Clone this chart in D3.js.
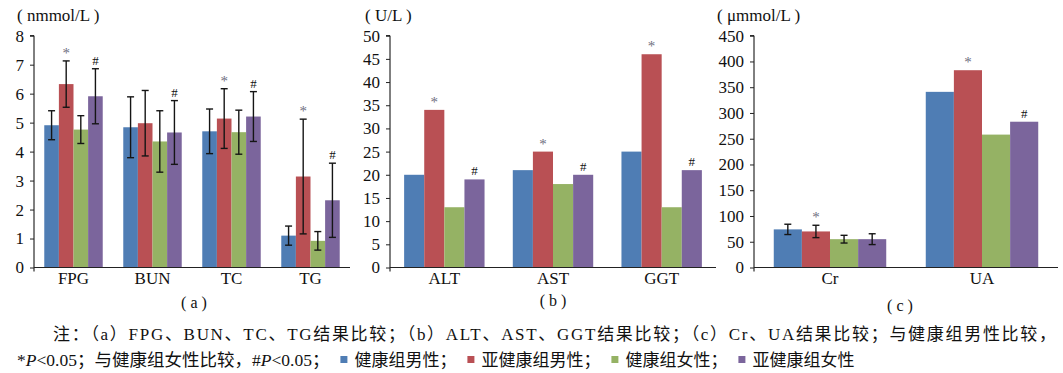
<!DOCTYPE html>
<html>
<head>
<meta charset="utf-8">
<script src="https://cdn.jsdelivr.net/npm/d3@7"></script>
<style>
  body { margin: 0; background: #fff; }
  text { font-family: "Liberation Serif", "Noto Sans CJK SC", serif; fill: #111; }
</style>
</head>
<body>
<svg id="chart" width="1063" height="373"></svg>
<script>
// series (legend order)
var seriesNames = ['健康组男性', '亚健康组男性', '健康组女性', '亚健康组女性'];
var seriesColors = ['#4f7db4', '#b95054', '#95b264', '#7b659c'];

// (a) FPG, BUN, TC, TG  (mmol/L)
var catsA = ['FPG', 'BUN', 'TC', 'TG'];
var healthyMaleA   = [4.91, 4.84, 4.70, 1.10];
var subMaleA       = [6.33, 4.98, 5.14, 3.14];
var healthyFemaleA = [4.76, 4.35, 4.67, 0.92];
var subFemaleA     = [5.91, 4.66, 5.21, 2.32];
var healthyMaleSdA   = [0.50, 1.05, 0.77, 0.33];
var subMaleSdA       = [0.80, 1.13, 1.03, 1.98];
var healthyFemaleSdA = [0.48, 1.06, 0.76, 0.32];
var subFemaleSdA     = [0.95, 1.10, 0.86, 1.28];
var starA = [1, 0, 1, 1];
var hashA = [1, 1, 1, 1];
var ticksA = [0, 1, 2, 3, 4, 5, 6, 7, 8];

// (b) ALT, AST, GGT  (U/L)
var catsB = ['ALT', 'AST', 'GGT'];
var healthyMaleB   = [20, 21, 25];
var subMaleB       = [34, 25, 46];
var healthyFemaleB = [13, 18, 13];
var subFemaleB     = [19, 20, 21];
var starB = [1, 1, 1];
var hashB = [1, 1, 1];
var ticksB = [0, 5, 10, 15, 20, 25, 30, 35, 40, 45, 50];

// (c) Cr, UA  (umol/L)
var catsC = ['Cr', 'UA'];
var healthyMaleC   = [74, 341];
var subMaleC       = [70, 383];
var healthyFemaleC = [55, 258];
var subFemaleC     = [55, 283];
var healthyMaleSdC   = [10, null];
var subMaleSdC       = [12, null];
var healthyFemaleSdC = [7.5, null];
var subFemaleSdC     = [10.5, null];
var starC = [1, 1];
var hashC = [0, 1];
var ticksC = [0, 50, 100, 150, 200, 250, 300, 350, 400, 450];

var svg = d3.select('#chart');
var yTop = 35.7, yBot = 267.5;

function drawPanel(p)
{
    var g = svg.append('g');
    var y = d3.scaleLinear().domain([0, p.ticks[p.ticks.length-1]]).range([yBot, yTop]);
    var x = d3.scaleBand().domain(p.cats).range([p.x0, p.x1])
              .paddingInner(0.26).paddingOuter(0.13);
    var xs = d3.scaleBand().domain(d3.range(4)).range([0, x.bandwidth()]);

    // bars
    for (var s=0; s<4; s++)
    {
        var vals = p.values[s];
        g.append('g').selectAll('rect')
            .data(p.cats)
            .join('rect')
            .attr('x', function(c) { return x(c) + xs(s); })
            .attr('y', function(c, i) { return y(vals[i]); })
            .attr('width', xs.bandwidth())
            .attr('height', function(c, i) { return y(0) - y(vals[i]); })
            .attr('fill', seriesColors[s]);
    }

    // error bars
    var tops = [];
    for (var s=0; s<4; s++)
    {
        tops.push([]);
        for (var i=0; i<p.cats.length; i++)
        {
            var v = p.values[s][i];
            var sd = p.sds ? p.sds[s][i] : null;
            tops[s].push(sd == null ? y(v) : y(v + sd));
            if (sd == null) continue;
            var cx = x(p.cats[i]) + xs(s) + xs.bandwidth()/2;
            var eb = g.append('g').attr('stroke', '#151515').attr('stroke-width', 1.4);
            eb.append('line').attr('x1', cx).attr('x2', cx).attr('y1', y(v + sd)).attr('y2', y(v - sd));
            eb.append('line').attr('x1', cx-3.5).attr('x2', cx+3.5).attr('y1', y(v + sd)).attr('y2', y(v + sd));
            eb.append('line').attr('x1', cx-3.5).attr('x2', cx+3.5).attr('y1', y(v - sd)).attr('y2', y(v - sd));
        }
    }

    // significance marks
    for (var i=0; i<p.cats.length; i++)
    {
        if (p.star[i])
            g.append('text')
                .attr('x', x(p.cats[i]) + xs(1) + xs.bandwidth()/2)
                .attr('y', tops[1][i] - 3)
                .attr('text-anchor', 'middle')
                .style('font-size', '15px').style('fill', '#6f6f80')
                .text('*');
        if (p.hash[i])
            g.append('text')
                .attr('x', x(p.cats[i]) + xs(3) + xs.bandwidth()/2)
                .attr('y', tops[3][i] - 4)
                .attr('text-anchor', 'middle')
                .style('font-size', '13px')
                .text('#');
    }

    // y axis
    var ya = g.append('g')
        .attr('transform', 'translate(' + p.x0 + ',0)')
        .call(d3.axisLeft(y).tickValues(p.ticks).tickSize(4).tickPadding(6));
    ya.select('.domain').attr('d', 'M-4,' + yTop + 'H0V' + (yBot + 4));
    ya.selectAll('line').attr('stroke', '#222');
    ya.selectAll('text').style('font-size', '17px').style('font-family', '"Liberation Serif", serif').attr('fill', '#111');

    // x axis
    g.append('line')
        .attr('x1', p.x0).attr('x2', p.x1)
        .attr('y1', yBot).attr('y2', yBot)
        .attr('stroke', '#222').attr('stroke-width', 1);
    g.append('g').selectAll('text')
        .data(p.cats)
        .join('text')
        .attr('x', function(c) { return x(c) + x.bandwidth()/2; })
        .attr('y', 284)
        .attr('text-anchor', 'middle')
        .style('font-size', '17px')
        .text(function(c) { return c; });

    // unit + panel label
    g.append('text').attr('x', p.unitX).attr('y', 21).style('font-size', '17px').text(p.unit);
    g.append('text').attr('x', p.labelX).attr('y', p.labelY)
        .attr('text-anchor', 'middle').style('font-size', '16px').text(p.label);
}

drawPanel({
    cats: catsA, ticks: ticksA, x0: 34, x1: 350,
    values: [healthyMaleA, subMaleA, healthyFemaleA, subFemaleA],
    sds: [healthyMaleSdA, subMaleSdA, healthyFemaleSdA, subFemaleSdA],
    star: starA, hash: hashA,
    unit: '( nmmol/L )', unitX: 17, label: '( a )', labelX: 194, labelY: 308
});
drawPanel({
    cats: catsB, ticks: ticksB, x0: 390, x1: 716,
    values: [healthyMaleB, subMaleB, healthyFemaleB, subFemaleB],
    sds: null,
    star: starB, hash: hashB,
    unit: '( U/L )', unitX: 365, label: '( b )', labelX: 553, labelY: 306
});
drawPanel({
    cats: catsC, ticks: ticksC, x0: 754, x1: 1058,
    values: [healthyMaleC, subMaleC, healthyFemaleC, subFemaleC],
    sds: [healthyMaleSdC, subMaleSdC, healthyFemaleSdC, subFemaleSdC],
    star: starC, hash: hashC,
    unit: '( μmmol/L )', unitX: 717, label: '( c )', labelX: 900, labelY: 311
});

// note, line 1 (justified to full width)
svg.append('text')
    .attr('x', 53).attr('y', 340)
    .attr('textLength', 1003).attr('lengthAdjust', 'spacing')
    .style('font-size', '17px')
    .text('注：（a）FPG、BUN、TC、TG结果比较；（b）ALT、AST、GGT结果比较；（c）Cr、UA结果比较；与健康组男性比较，');

// note, line 2 with legend squares
var line2 = [
    {t: '*'}, {t: 'P', i: true}, {t: '<0.05；与健康组女性比较，#'}, {t: 'P', i: true}, {t: '<0.05；'},
    {sq: 0}, {t: seriesNames[0] + '；'},
    {sq: 1}, {t: seriesNames[1] + '；'},
    {sq: 2}, {t: seriesNames[2] + '；'},
    {sq: 3}, {t: seriesNames[3]}
];
var cx = 17;
for (var k=0; k<line2.length; k++)
{
    var seg = line2[k];
    if (seg.sq != null)
    {
        svg.append('rect').attr('x', cx + 11).attr('y', 356)
            .attr('width', 7).attr('height', 7).attr('fill', seriesColors[seg.sq]);
        cx += 25;
        continue;
    }
    var t = svg.append('text').attr('x', cx).attr('y', 366)
        .style('font-size', seg.i || /^[*<]/.test(seg.t) ? '17.5px' : '17px').text(seg.t);
    if (seg.i) t.style('font-style', 'italic');
    cx += t.node().getComputedTextLength();
}
</script>
</body>
</html>
